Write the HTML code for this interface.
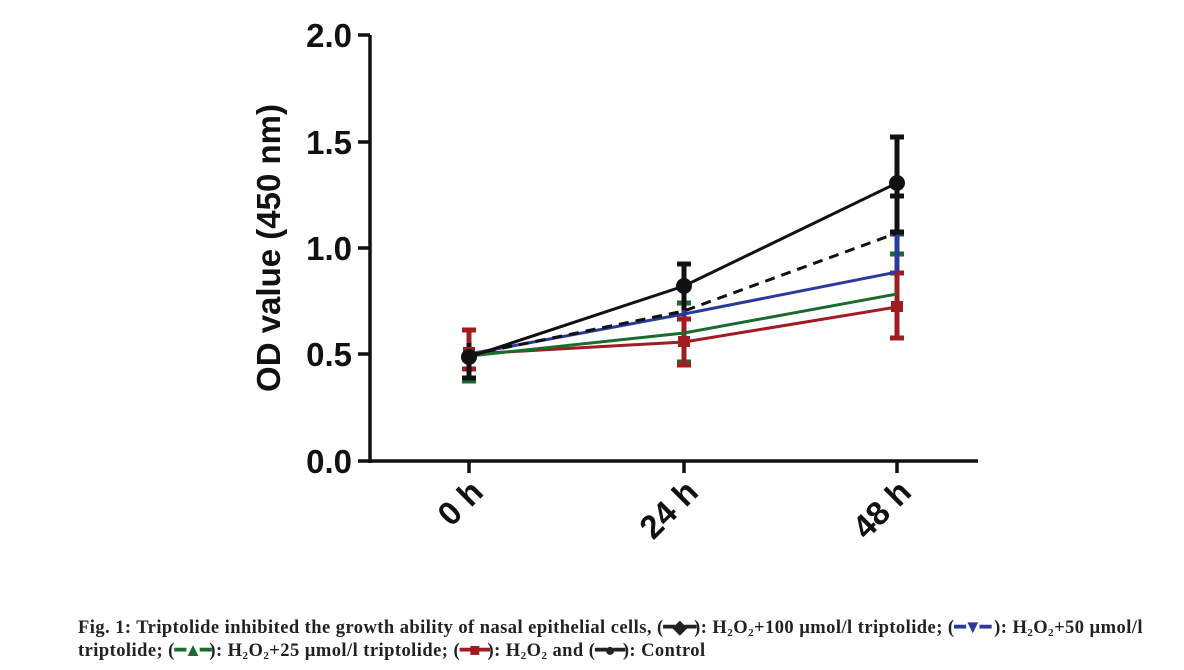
<!DOCTYPE html>
<html><head><meta charset="utf-8"><style>
body{margin:0;background:#fff;width:1184px;height:670px;overflow:hidden;position:relative}
.cap{position:absolute;left:78px;top:617px;font-family:"Liberation Serif",serif;font-weight:bold;font-size:18.5px;line-height:23px;color:#222;white-space:nowrap;letter-spacing:0.45px}
sub{font-size:11px;vertical-align:-3px;line-height:0}
</style></head><body>
<svg width="1184" height="610" style="position:absolute;left:0;top:0" font-family="Liberation Sans,sans-serif">
<g stroke="#111" stroke-width="3.5" fill="none">
<line x1="370" y1="35" x2="370" y2="463"/>
<line x1="368" y1="461" x2="978" y2="461"/>
<line x1="358" y1="35" x2="370" y2="35"/><line x1="358" y1="142" x2="370" y2="142"/><line x1="358" y1="248" x2="370" y2="248"/><line x1="358" y1="354" x2="370" y2="354"/><line x1="358" y1="461" x2="370" y2="461"/>
<line x1="469" y1="461" x2="469" y2="473"/><line x1="684" y1="461" x2="684" y2="473"/><line x1="897" y1="461" x2="897" y2="473"/>
</g>
<g font-size="33" font-weight="bold" fill="#111" text-anchor="end">
<text x="352" y="47">2.0</text><text x="352" y="154">1.5</text><text x="352" y="260">1.0</text><text x="352" y="366">0.5</text><text x="352" y="473">0.0</text>
</g>
<text transform="translate(280,248) rotate(-90)" font-size="33" font-weight="bold" text-anchor="middle" fill="#111">OD value (450 nm)</text>
<g font-size="33" font-weight="bold" fill="#111" text-anchor="end">
<text transform="translate(485,494) rotate(-45)">0 h</text>
<text transform="translate(700,494) rotate(-45)">24 h</text>
<text transform="translate(913,494) rotate(-45)">48 h</text>
</g>
<g stroke-width="5">
<g stroke="#1a6b2e"><line x1="469" y1="381" x2="469" y2="336"/><line x1="462" y1="381" x2="476" y2="381"/><line x1="684" y1="308" x2="684" y2="362"/><line x1="677" y1="362" x2="691" y2="362"/><line x1="677" y1="303" x2="691" y2="303"/><line x1="897" y1="254" x2="897" y2="334"/><line x1="890" y1="254" x2="904" y2="254"/></g>
<g stroke="#2a3a9a"><line x1="469" y1="369" x2="469" y2="345"/><line x1="462" y1="369" x2="476" y2="369"/><line x1="684" y1="285" x2="684" y2="346"/><line x1="897" y1="232" x2="897" y2="305"/><line x1="890" y1="234" x2="904" y2="234"/></g>
<g stroke="#a01c22"><line x1="469" y1="330" x2="469" y2="372"/><line x1="462" y1="330" x2="476" y2="330"/><line x1="462" y1="369" x2="476" y2="369"/><line x1="684" y1="318" x2="684" y2="365"/><line x1="677" y1="365" x2="691" y2="365"/><line x1="677" y1="319" x2="691" y2="319"/><line x1="897" y1="273" x2="897" y2="338"/><line x1="890" y1="273" x2="904" y2="273"/><line x1="890" y1="338" x2="904" y2="338"/></g>
<g stroke="#111"><line x1="469" y1="343" x2="469" y2="378"/><line x1="462" y1="378" x2="476" y2="378"/><line x1="684" y1="264" x2="684" y2="310"/><line x1="677" y1="264" x2="691" y2="264"/><line x1="897" y1="137" x2="897" y2="232"/><line x1="890" y1="137" x2="904" y2="137"/><line x1="890" y1="196" x2="904" y2="196"/><line x1="890" y1="232" x2="904" y2="232"/></g>
</g>
<g fill="none" stroke-width="3">
<polyline stroke="#a01c22" points="469,354 684,342 897,307"/>
<polyline stroke="#1a6b2e" points="469,356 684,333 897,294"/>
<polyline stroke="#2a3a9a" points="469,354 684,314 897,272"/>
<polyline stroke="#111" stroke-dasharray="10,7" points="469,355 684,311 897,233"/>
<polyline stroke="#111" points="469,357 684,286 897,183"/>
</g>
<g>
<rect x="463" y="347" width="12" height="11" fill="#a01c22"/>
<rect x="678" y="336" width="12" height="11" fill="#a01c22"/>
<rect x="891" y="301" width="12" height="11" fill="#a01c22"/>
<circle cx="469" cy="357" r="8" fill="#111"/><circle cx="684" cy="286" r="8" fill="#111"/><circle cx="897" cy="183" r="8" fill="#111"/>
</g>
</svg>
<div class="cap">Fig. 1: Triptolide inhibited the growth ability of nasal epithelial cells, (<span style="letter-spacing:-2px">━◆━</span>): H<sub>2</sub>O<sub>2</sub>+100 µmol/l triptolide; (<span style="color:#2a3a9a;letter-spacing:-2px">━▼━</span> ): H<sub>2</sub>O<sub>2</sub>+50 µmol/l<br>triptolide; (<span style="color:#1a6b2e;letter-spacing:-2px">━▲━</span>): H<sub>2</sub>O<sub>2</sub>+25 µmol/l triptolide; (<span style="color:#a01c22;letter-spacing:-2px">━■━</span>): H<sub>2</sub>O<sub>2</sub> and (<span style="letter-spacing:-2px">━●━</span>): Control</div>
</body></html>
